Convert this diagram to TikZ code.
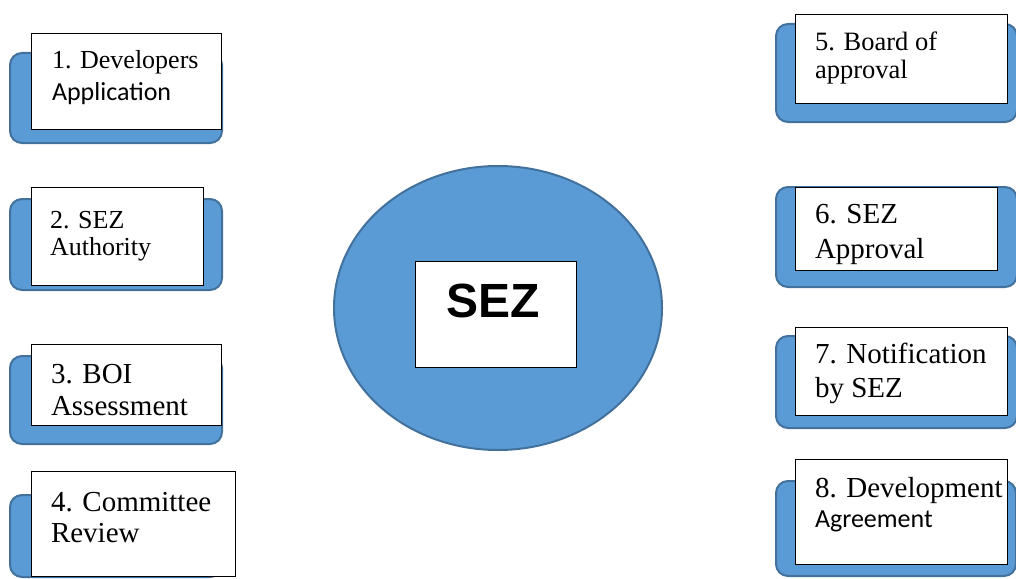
\documentclass[tikz,border=0pt]{standalone}
\usepackage{fontspec}
\setmainfont{Liberation Serif}
\newfontfamily\calfont{Carlito}
\newfontfamily\arialfont{Liberation Sans}
\usetikzlibrary{shapes.geometric}
\definecolor{blu}{HTML}{5B9BD5}
\definecolor{bdr}{HTML}{41719C}
\tikzset{
  back/.style={draw=bdr, fill=blu, line width=2pt, rounded corners=12pt,
    anchor=north west, inner sep=0pt, outer sep=0pt},
  card/.style={draw=black, fill=white, line width=0.9pt,
    anchor=north west, inner sep=0pt, outer sep=0pt},
  lbl/.style={anchor=base west, inner sep=0pt, outer sep=0pt},
}
% size and baseline skip in one
\newcommand{\fs}[1]{\fontsize{#1pt}{#1pt}\selectfont}
\begin{document}
\begin{tikzpicture}[x=1pt,y=-1pt]
\useasboundingbox (0,0) rectangle (1016,578);
\clip (0,0) rectangle (1016,578);
\fill[white] (0,0) rectangle (1016,578);

% ---- left column ----
\node[back, minimum width=212pt, minimum height=90pt] (b1) at (10,53) {};
\node[card, minimum width=190pt, minimum height=96pt] (w1) at (31,33) {};
\node[lbl] (t1a) at (52,68) {\fs{26}1. Developers};
\node[lbl] (t1b) at (52,100) {\fs{26}\calfont Application};

\node[back, minimum width=212pt, minimum height=91pt] (b2) at (10,199) {};
\node[card, minimum width=172pt, minimum height=98pt] (w2) at (31,187) {};
\node[lbl] (t2a) at (50,228) {\fs{26}2. SEZ};
\node[lbl] (t2b) at (50,255) {\fs{26}Authority};

\node[back, minimum width=212pt, minimum height=88pt] (b3) at (10,356) {};
\node[card, minimum width=190pt, minimum height=81pt] (w3) at (31,344) {};
\node[lbl] (t3a) at (51,383) {\fs{29}3. BOI};
\node[lbl] (t3b) at (51,415) {\fs{29}Assessment};

\node[back, minimum width=212pt, minimum height=82pt] (b4) at (10,495) {};
\node[card, minimum width=204pt, minimum height=105pt] (w4) at (31,471) {};
\node[lbl] (t4a) at (51,511) {\fs{29}4. Committee};
\node[lbl] (t4b) at (51,542) {\fs{29}Review};

% ---- centre ----
\node[ellipse, draw=bdr, fill=blu, line width=2pt, minimum width=328pt,
  minimum height=284pt, inner sep=0pt] (hub) at (498,308) {};
\node[card, minimum width=161pt, minimum height=106pt] (core) at (415,261) {};
\node[lbl] (tc) at (446,317) {\fs{48}\arialfont\bfseries SEZ};

% ---- right column ----
\node[back, minimum width=241pt, minimum height=98pt] (b5) at (776,24) {};
\node[card, minimum width=212pt, minimum height=89pt] (w5) at (795,14) {};
\node[lbl] (t5a) at (815,50) {\fs{26.5}5. Board of};
\node[lbl] (t5b) at (815,78) {\fs{26.5}approval};

\node[back, minimum width=241pt, minimum height=100pt] (b6) at (776,187) {};
\node[card, minimum width=202pt, minimum height=83pt] (w6) at (795,187) {};
\node[lbl] (t6a) at (815,223) {\fs{29}6. SEZ};
\node[lbl] (t6b) at (815,258) {\fs{29}Approval};

\node[back, minimum width=241pt, minimum height=92pt] (b7) at (776,336) {};
\node[card, minimum width=212pt, minimum height=88pt] (w7) at (795,327) {};
\node[lbl] (t7a) at (815,363) {\fs{29}7. Notification};
\node[lbl] (t7b) at (815,397) {\fs{29}by SEZ};

\node[back, minimum width=240pt, minimum height=95pt] (b8) at (776,481) {};
\node[card, minimum width=212pt, minimum height=105pt] (w8) at (795,459) {};
\node[lbl] (t8a) at (815,497) {\fs{29}8. Development};
\node[lbl] (t8b) at (815,527) {\fs{26}\calfont Agreement};
\end{tikzpicture}
\end{document}
